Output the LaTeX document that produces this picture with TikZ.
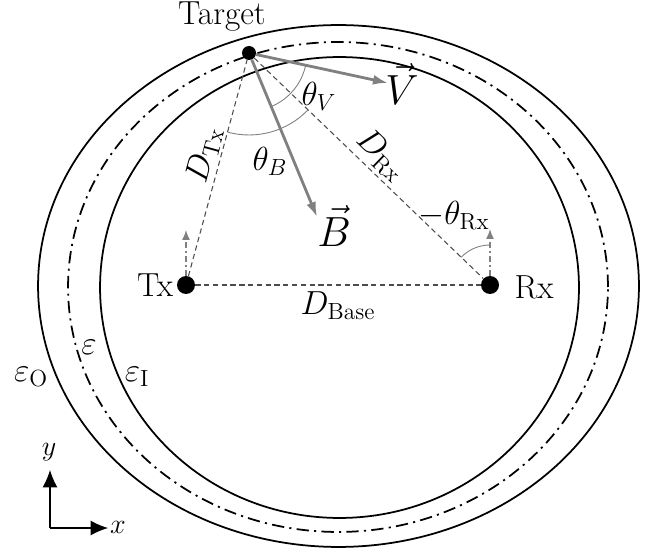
\RequirePackage{fix-cm}
\documentclass[tikz,border=0pt]{standalone}
\usepackage{amsmath,amssymb}
\usepackage{fontspec}
\usetikzlibrary{arrows.meta,angles}

\begin{document}
\begin{tikzpicture}[
  x=0.02cm, y=-0.02cm,
  every node/.style={font=\fontsize{19}{23}\selectfont, text=black},
  big/.style={font=\fontsize{24}{28}\selectfont},
  small/.style={font=\fontsize{16}{19}\selectfont},
  dot/.style={circle, fill=black, inner sep=0pt, minimum size=0.36cm},
  tgtdot/.style={circle, fill=black, inner sep=0pt, minimum size=0.28cm},
  rim/.style={line width=1pt},
  midrim/.style={line width=1pt, dash pattern=on 7pt off 3pt on 1.2pt off 3pt},
  dist/.style={gray!60!black, line width=0.6pt, dash pattern=on 3pt off 2pt},
  vec/.style={gray, line width=1.6pt, -{Latex[length=3mm,width=2mm]}},
  ref/.style={gray, line width=0.8pt, dash pattern=on 3pt off 2pt on 1pt off 2pt,
              -{Latex[length=2mm,width=1.6mm]}},
  ang/.style={draw=gray, line width=0.5pt},
  axis/.style={line width=0.6pt, -{Latex[length=3.5mm,width=3mm]}}
]
  \useasboundingbox (0,0) rectangle (652,550);

  \draw[rim]    (338.5,286) ellipse [x radius=6.01cm, y radius=5.22cm];
  \draw[midrim] (338,287)   ellipse [x radius=5.4cm,  y radius=4.9cm];
  \draw[rim]    (339.5,287.5) ellipse [x radius=4.79cm, y radius=4.61cm];

  \node[dot]    (tx)  at (186,285) {};
  \node[dot]    (rx)  at (490,285) {};
  \node[tgtdot] (tgt) at (249,53)  {};

  \coordinate (vtip) at (388,83);
  \coordinate (btip) at (317,217);
  \coordinate (txup) at (186,230);
  \coordinate (rxup) at (490,229);

  \draw[dist] (tx) -- node[sloped, above, pos=0.54, inner sep=1pt] {$D_{\mathrm{Tx}}$} (tgt);
  \draw[dist] (tgt) -- node[sloped, above, pos=0.5, inner sep=2pt] {$D_{\mathrm{Rx}}$} (rx);
  \draw[dist] (tx) -- node[below] {$D_{\mathrm{Base}}$} (rx);

  \draw[ref] (tx) -- (txup);
  \draw[ref] (rx) -- (rxup);

  \pic[ang, angle radius=1.16cm] {angle = btip--tgt--vtip};
  \pic[ang, angle radius=1.64cm] {angle = tx--tgt--rx};
  \pic[ang, angle radius=0.8cm]  {angle = rxup--rx--tgt};

  \draw[vec] (tgt) -- (vtip);
  \draw[vec] (tgt) -- (btip);

  \node (tgtlbl) at (222,17)  {Target};
  \node (txlbl)  at (155,285) {Tx};
  \node (rxlbl)  at (534,287) {Rx};
  \node[big] (vlbl) at (402,84)  {$\vec{V}$};
  \node[big] (blbl) at (334,226) {$\vec{B}$};
  \node (thv)   at (319,96)  {$\theta_V$};
  \node (thb)   at (270,161) {$\theta_B$};
  \node (thrx)  at (454,216) {$-\theta_{\mathrm{Rx}}$};
  \node (eps)   at (89,347)  {$\varepsilon$};
  \node (epso)  at (31,377)  {$\varepsilon_{\mathrm{O}}$};
  \node (epsi)  at (137,377) {$\varepsilon_{\mathrm{I}}$};

  \coordinate (org)  at (50,528);
  \coordinate (xend) at (108,528);
  \coordinate (yend) at (50,470);
  \draw[axis] (org) -- (yend);
  \draw[axis] (org) -- (xend);
  \node[small] (ylbl) at (49,452)  {$y$};
  \node[small] (xlbl) at (118,527) {$x$};
\end{tikzpicture}
\end{document}
